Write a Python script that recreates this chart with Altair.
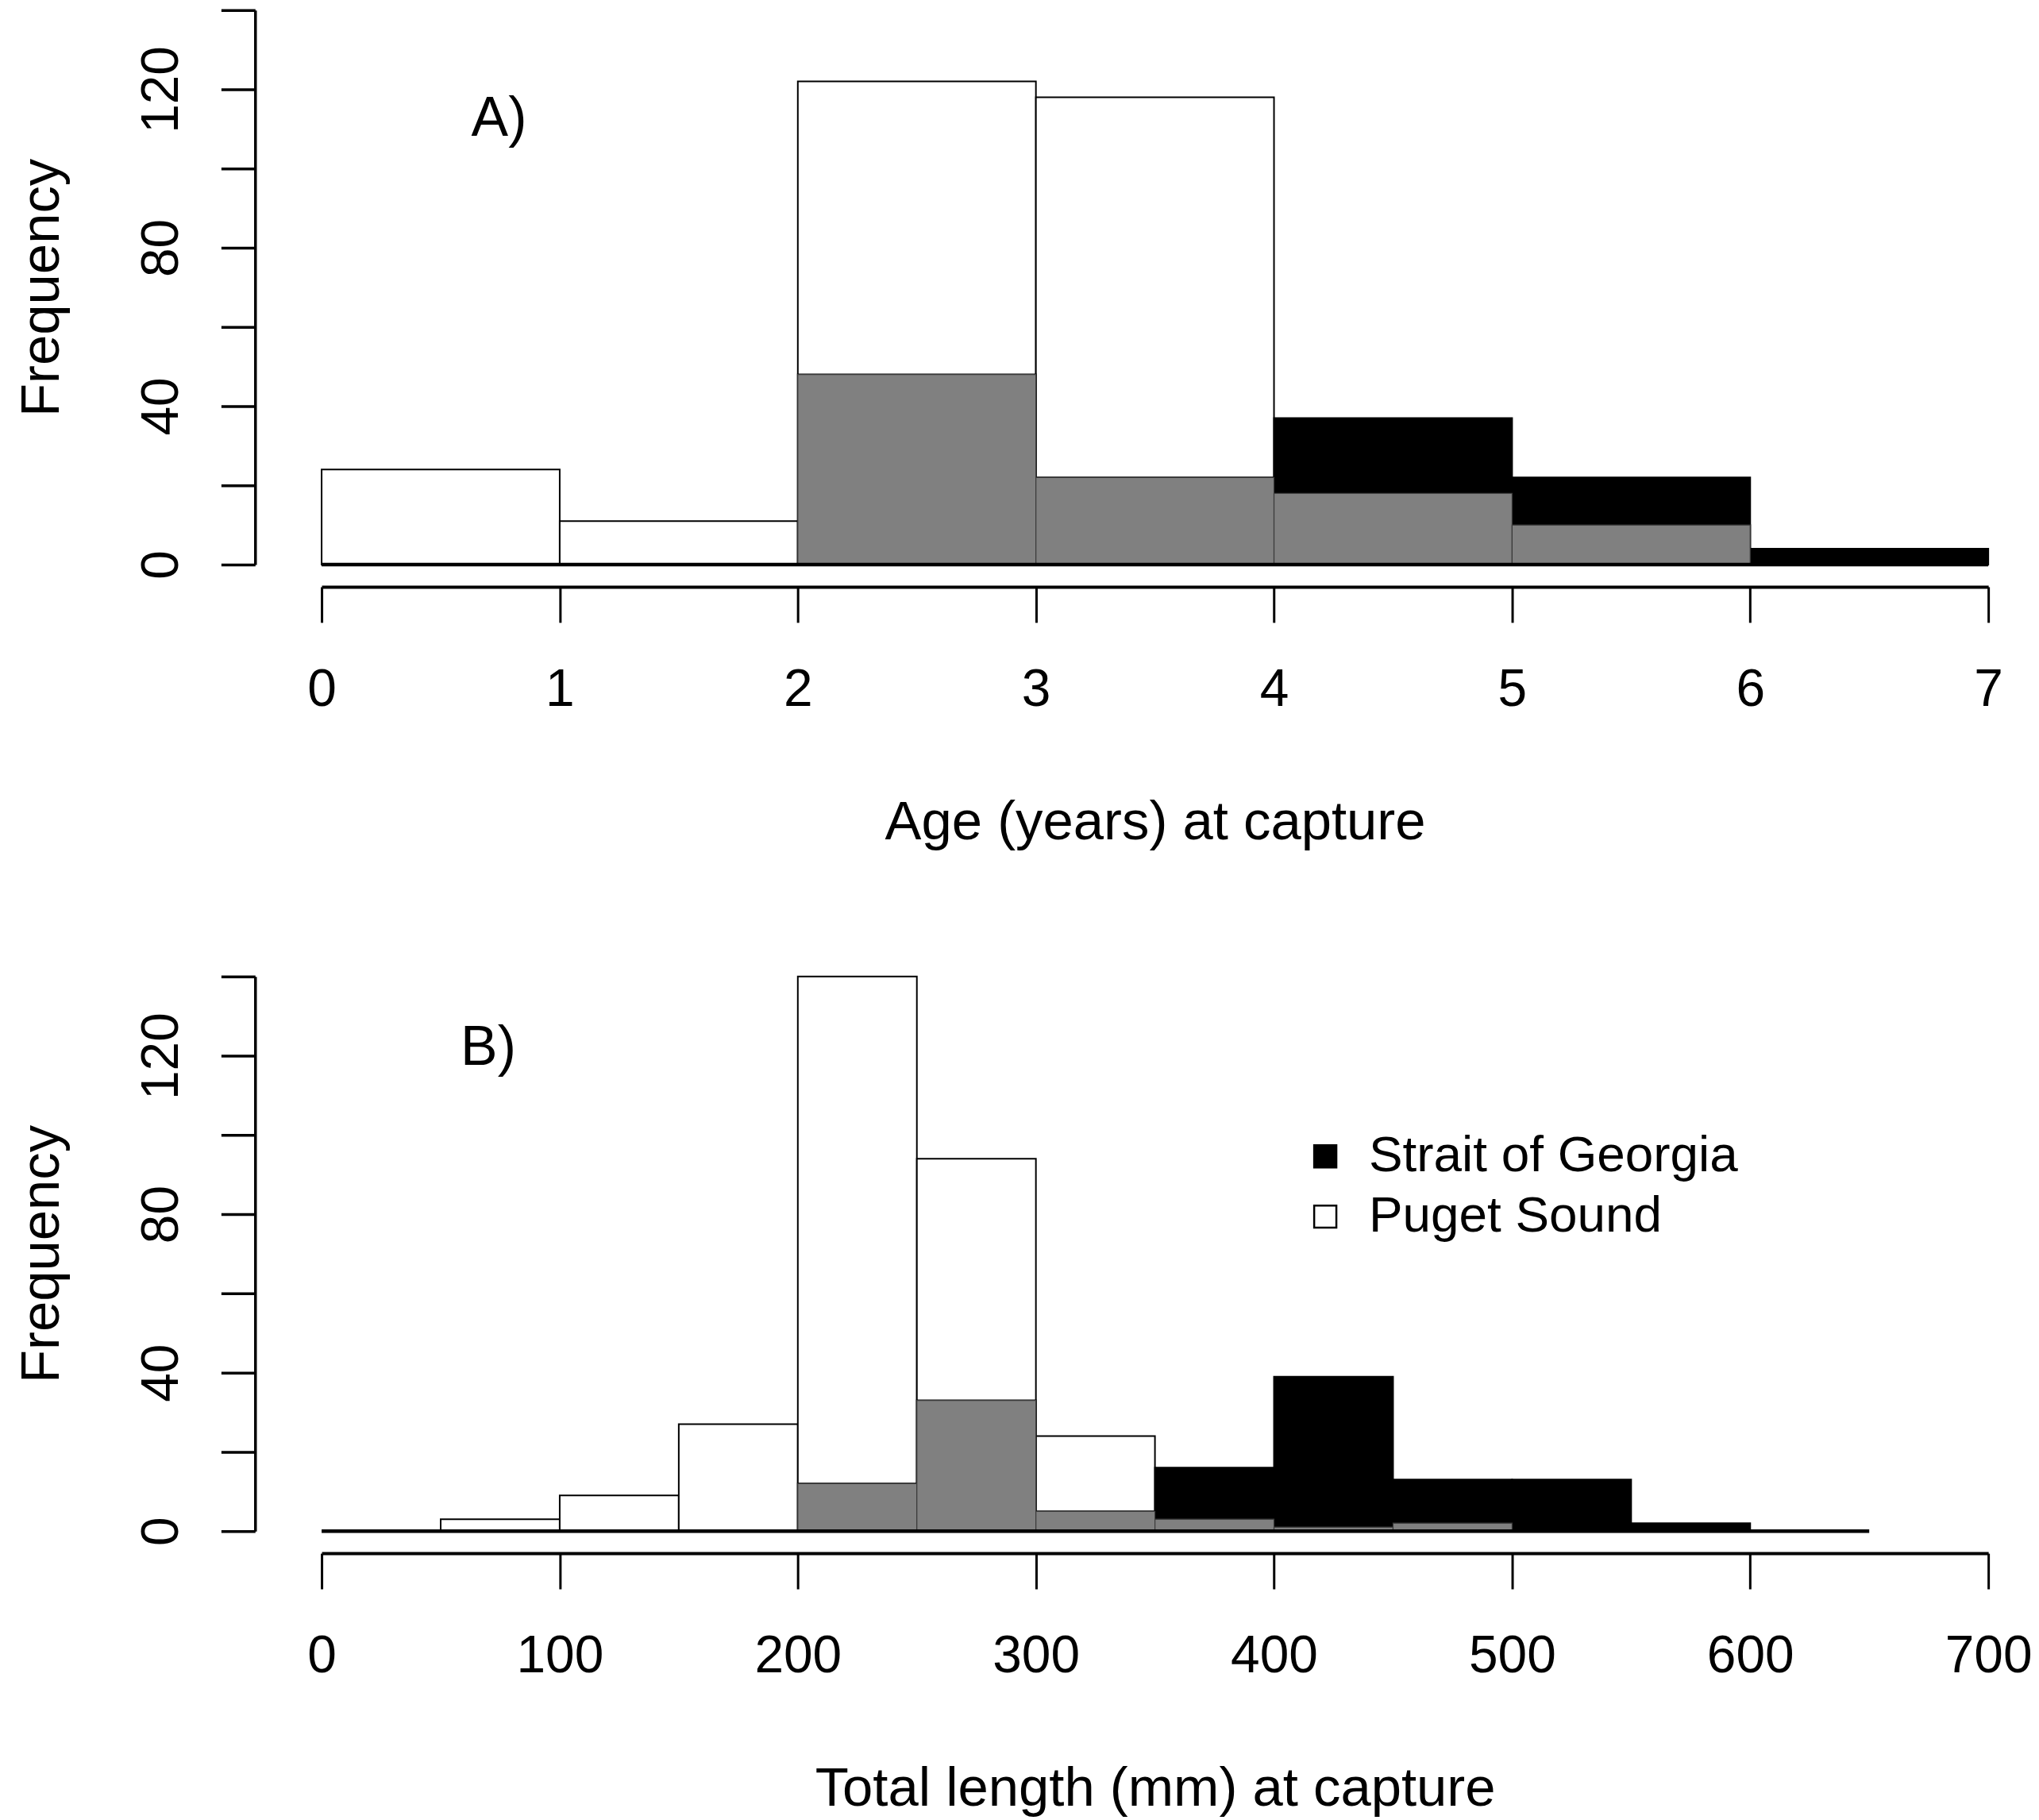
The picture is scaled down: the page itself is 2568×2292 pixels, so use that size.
import altair as alt
import pandas as pd

FONT = "Liberation Sans"

# ---- Panel A: age (years) at capture ----
age_edges = [0, 1, 2, 3, 4, 5, 6, 7]
age_puget = [24, 11, 122, 118, 18, 10, 0]
age_georgia = [0, 0, 48, 22, 37, 22, 4]
age_ticks = [0, 1, 2, 3, 4, 5, 6, 7]

# ---- Panel B: total length (mm) at capture ----
len_edges = [0, 50, 100, 150, 200, 250, 300, 350, 400, 450, 500, 550, 600, 650]
len_puget = [0, 3, 9, 27, 140, 94, 24, 3, 1, 2, 0, 0, 0]
len_georgia = [0, 0, 0, 0, 12, 33, 5, 16, 39, 13, 13, 2, 0]
len_ticks = [0, 100, 200, 300, 400, 500, 600, 700]

freq_ticks = [0, 20, 40, 60, 80, 100, 120, 140]

series_names = ["Strait of Georgia", "Puget Sound"]
series_colors = ["#000000", "#ffffff"]
overlap_color = "#808080"

panel_labels = ["A)", "B)"]
panel_label_x = [0.745, 70]
panel_label_y = [112.5, 122]

W, H = 2104, 700


def build_frames(edges, puget, georgia):
    rows = []
    for i, c in enumerate(puget):
        if c > 0:
            rows.append(dict(start=edges[i], end=edges[i + 1], count=c, base=0,
                             series="Puget Sound"))
    for i, c in enumerate(georgia):
        if c > 0:
            rows.append(dict(start=edges[i], end=edges[i + 1], count=c, base=0,
                             series="Strait of Georgia"))
    over = []
    for i in range(len(puget)):
        m = min(puget[i], georgia[i])
        if m > 0:
            over.append(dict(start=edges[i], end=edges[i + 1], count=m, base=0))
    base = pd.DataFrame([dict(start=edges[0], end=edges[-1], base=0)])
    return pd.DataFrame(rows), pd.DataFrame(over), base


def panel(edges, puget, georgia, xdomain, xticks, xtitle, label, lx, ly, legend):
    bars_df, over_df, base_df = build_frames(edges, puget, georgia)
    x = alt.X("start:Q", scale=alt.Scale(domain=xdomain, nice=False, zero=False),
              axis=alt.Axis(values=xticks, title=xtitle, format="d", offset=28,
                            tickSize=45, tickWidth=3, domainWidth=4,
                            labelPadding=53, labelFontSize=66, titleFontSize=69,
                            titlePadding=100, labelFlush=False, labelOverlap=False,
                            grid=False))
    y = alt.Y("count:Q", scale=alt.Scale(domain=[0, 140], nice=False),
              axis=alt.Axis(values=freq_ticks, title="Frequency", offset=84,
                            tickSize=43, tickWidth=3.5, domainWidth=3.5,
                            labelExpr="(datum.value % 40 == 0 && datum.value < 140) ? datum.label : ''",
                            labelAngle=270, labelAlign="center", labelBaseline="bottom",
                            labelPadding=41, labelFontSize=66, labelOverlap=False,
                            labelFlush=False, titleFontSize=69, titleAngle=270,
                            titleBaseline="bottom", titlePadding=83, grid=False))
    fill = alt.Fill("series:N", scale=alt.Scale(domain=series_names, range=series_colors),
                    legend=legend)
    bars = alt.Chart(bars_df).mark_rect(stroke="black", strokeWidth=2).encode(
        x=x, x2="end:Q", y=y, y2="base:Q", fill=fill)
    over = alt.Chart(over_df).mark_rect(fill=overlap_color, stroke="#3a3a3a",
                                        strokeWidth=1.2).encode(
        x="start:Q", x2="end:Q", y="count:Q", y2="base:Q")
    base = alt.Chart(base_df).mark_rule(color="black", strokeWidth=4.5).encode(
        x="start:Q", x2="end:Q", y="base:Q")
    txt_df = pd.DataFrame([dict(start=lx, count=ly, label=label)])
    txt = alt.Chart(txt_df).mark_text(font=FONT, fontSize=70, align="center",
                                      baseline="middle", color="black").encode(
        x="start:Q", y="count:Q", text="label:N")
    return alt.layer(bars, over, base, txt).properties(width=W, height=H)


legend_b = alt.Legend(title=None, orient="none", legendX=1235, legendY=195,
                      symbolType="square", symbolSize=784, symbolStrokeColor="black",
                      symbolStrokeWidth=2.5, labelFontSize=64, labelFont=FONT,
                      labelColor="black", labelOffset=23, labelLimit=1000,
                      rowPadding=12, padding=0)

chart_a = panel(age_edges, age_puget, age_georgia, [0, 7], age_ticks,
                "Age (years) at capture", panel_labels[0], panel_label_x[0],
                panel_label_y[0], None)
chart_b = panel(len_edges, len_puget, len_georgia, [0, 700], len_ticks,
                "Total length (mm) at capture", panel_labels[1], panel_label_x[1],
                panel_label_y[1], legend_b)

chart = alt.vconcat(chart_a, chart_b, spacing=158,
                    padding={"left": 10, "top": 0, "right": 0, "bottom": 0}).resolve_scale(
    fill="independent").resolve_legend(fill="independent").configure_view(
    stroke=None).configure_axis(
    labelFont=FONT, titleFont=FONT, labelColor="black", titleColor="black",
    domainColor="black", tickColor="black", titleFontWeight="normal")

chart.save("out.html", embed_options={"renderer": "svg", "actions": False})
